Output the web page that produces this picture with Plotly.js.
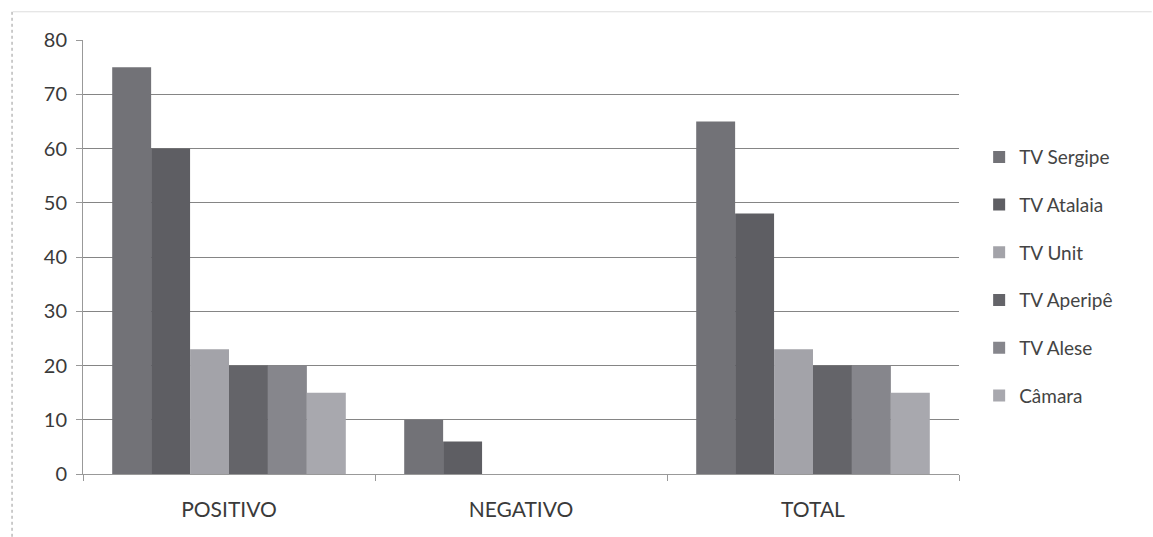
<!DOCTYPE html>
<html>
<head>
<meta charset="utf-8">
<script src="https://cdn.plot.ly/plotly-3.0.1.min.js"></script>
<style>html,body{margin:0;padding:0;background:#fff;}#chart{width:1153px;height:537px;}</style>
</head>
<body>
<div id="chart"></div>
<script>
const categories = ["POSITIVO", "NEGATIVO", "TOTAL"];
const seriesNames = ["TV Sergipe", "TV Atalaia", "TV Unit", "TV Aperipê", "TV Alese", "Câmara"];
const tvSergipe = [75, 10, 65];
const tvAtalaia = [60, 6, 48];
const tvUnit = [23, 0, 23];
const tvAperipe = [20, 0, 20];
const tvAlese = [20, 0, 20];
const camara = [15, 0, 15];
const yTicks = [0, 10, 20, 30, 40, 50, 60, 70, 80];

const values = [tvSergipe, tvAtalaia, tvUnit, tvAperipe, tvAlese, camara];
const colors = ["#727277", "#5e5e63", "#a3a3a9", "#646469", "#86868c", "#a8a8ae"];

const traces = seriesNames.map((name, i) => ({
  type: "bar",
  name: name,
  x: categories,
  y: values[i],
  legendgroup: "g" + i,
  marker: { color: colors[i], line: { width: 0 } }
}));

const layout = {
  width: 1153,
  height: 537,
  margin: { l: 83, r: 194, t: 40, b: 63 },
  paper_bgcolor: "#ffffff",
  plot_bgcolor: "#ffffff",
  font: { family: "Lato, sans-serif", size: 20, color: "#3a3a3a" },
  barmode: "group",
  bargap: 0.2,
  bargroupgap: 0,
  xaxis: {
    type: "category",
    tickson: "boundaries",
    ticks: "outside",
    ticklen: 6,
    tickcolor: "#999",
    showline: true,
    linecolor: "#999",
    linewidth: 1,
    showgrid: false,
    tickfont: { size: 21, color: "#3a3a3a" },
    ticklabelstandoff: 17,
    fixedrange: true
  },
  yaxis: {
    range: [0, 80],
    tickvals: yTicks,
    ticks: "outside",
    ticklen: 6,
    tickcolor: "#999",
    showline: true,
    linecolor: "#999",
    showgrid: true,
    gridcolor: "#858585",
    gridwidth: 1,
    zeroline: false,
    tickfont: { size: 20, color: "#3a3a3a" },
    ticklabelstandoff: 5,
    fixedrange: true
  },
  legend: {
    x: 1.023,
    xanchor: "left",
    y: 0.455,
    yanchor: "middle",
    font: { size: 19, color: "#444" },
    tracegroupgap: 20,
    bgcolor: "rgba(0,0,0,0)"
  },
  showlegend: true,
  shapes: [
    { type: "line", xref: "paper", yref: "paper", x0: -0.08, x1: 1.22, y0: 1.065, y1: 1.065, line: { color: "#ddd", width: 1 } },
    { type: "line", xref: "paper", yref: "paper", x0: -0.081, x1: -0.081, y0: 1.065, y1: -0.15, line: { color: "#999", width: 1, dash: "dot" } }
  ]
};

Plotly.newPlot("chart", traces, layout, { displayModeBar: false, staticPlot: true });
</script>
</body>
</html>
